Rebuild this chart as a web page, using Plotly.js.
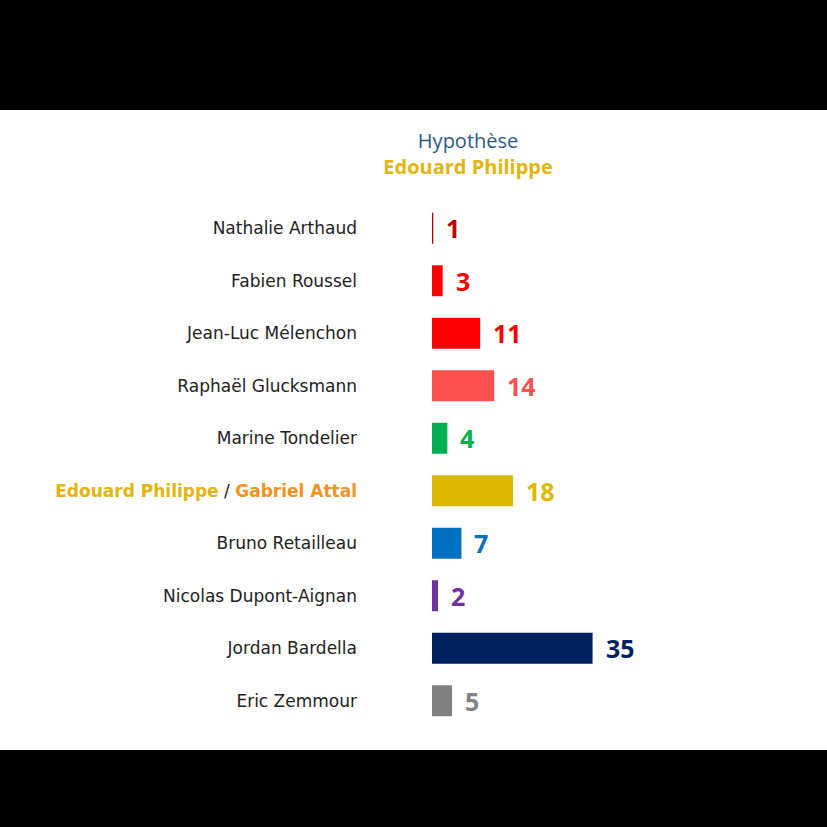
<!DOCTYPE html>
<html>
<head>
<meta charset="utf-8">
<script src="https://cdn.plot.ly/plotly-3.0.1.min.js"></script>
<style>
  html, body { margin: 0; padding: 0; background: #000000; }
  #chart { position: absolute; left: 0; top: 110px; width: 827px; height: 640px; background: #ffffff; }
</style>
</head>
<body>
<div id="chart"></div>
<script>
var candidates = [
    "Nathalie Arthaud",
    "Fabien Roussel",
    "Jean-Luc Mélenchon",
    "Raphaël Glucksmann",
    "Marine Tondelier",
    "Edouard Philippe / Gabriel Attal",
    "Bruno Retailleau",
    "Nicolas Dupont-Aignan",
    "Jordan Bardella",
    "Eric Zemmour"
]
var scores = [1, 3, 11, 14, 4, 18, 7, 2, 35, 5]
var barColors = ["#C00000", "#FF0000", "#FF0000", "#FF5050", "#00B050",
    "#DDB800", "#0070C0", "#7030A0", "#002060", "#808080"]
var tickLabels = candidates.map(function (name) {
    if (name.indexOf("/") > -1) {
        return "<b><span style='color:#E2B40C'>Edouard Philippe</span></b>" +
            " / <b><span style='color:#F39325'>Gabriel Attal</span></b>"
    }
    return name
})

var trace = {
    type: "bar",
    orientation: "h",
    x: scores,
    y: candidates,
    marker: { color: barColors },
    hoverinfo: "none"
}

var annotations = scores.map(function (v, i) {
    return {
        x: v,
        y: candidates[i],
        xref: "x",
        yref: "y",
        text: "<b>" + v + "</b>",
        showarrow: false,
        xanchor: "left",
        yanchor: "middle",
        xshift: 11,
        font: { family: "Open Sans, sans-serif", size: 25, color: barColors[i] }
    }
})

var layout = {
    width: 827,
    height: 640,
    title: {
        text: "Hypothèse<br><b><span style='color:#E2B40C'>Edouard Philippe</span></b>",
        font: { family: "Open Sans, sans-serif", size: 20, color: "#2E5A88" },
        xref: "container",
        yref: "container",
        x: 0.566,
        xanchor: "center",
        y: 0.94,
        yanchor: "top"
    },
    xaxis: {
        range: [0.72, 40],
        showgrid: false,
        zeroline: false,
        showticklabels: false,
        fixedrange: true
    },
    yaxis: {
        autorange: "reversed",
        tickvals: candidates,
        ticktext: tickLabels,
        showgrid: false,
        zeroline: false,
        ticks: "",
        ticklabelstandoff: 74,
        tickfont: { family: "DejaVu Sans, sans-serif", size: 17, color: "#222222" }
    },
    bargap: 0.41,
    showlegend: false,
    annotations: annotations,
    margin: { t: 92, b: 23, l: 432, r: 211, pad: 0 },
    plot_bgcolor: "#ffffff",
    paper_bgcolor: "#ffffff"
}

Plotly.newPlot("chart", [trace], layout, { displayModeBar: false, staticPlot: true })
</script>
</body>
</html>
